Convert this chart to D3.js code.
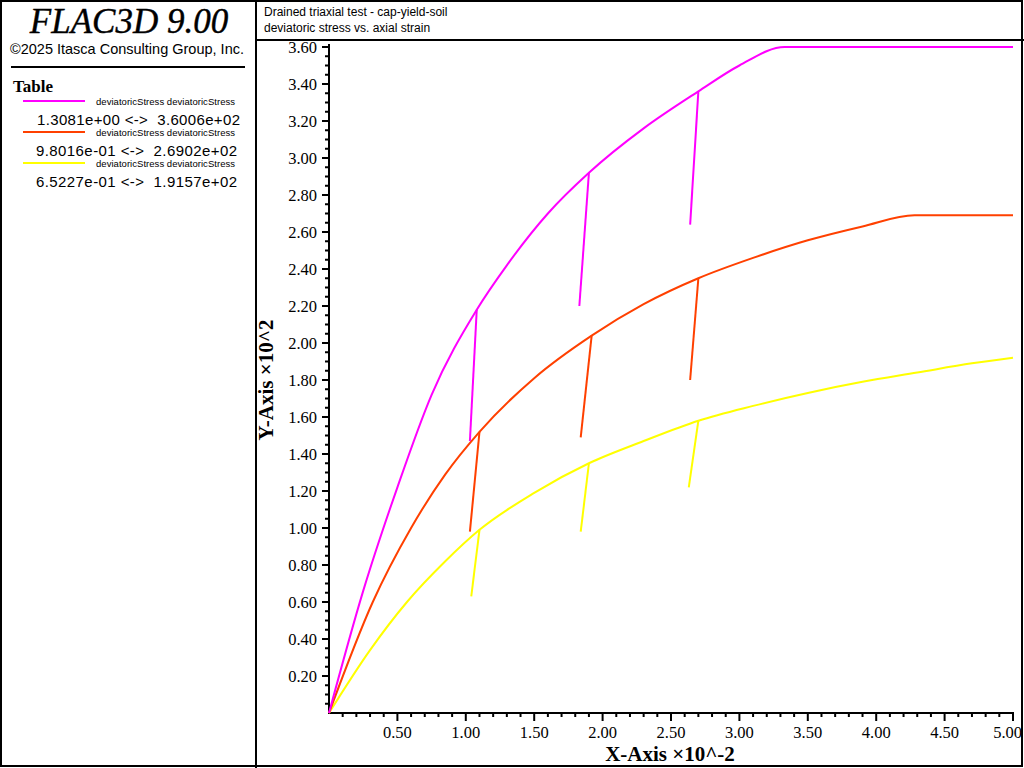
<!DOCTYPE html><html><head><meta charset="utf-8"><script src="https://cdn.jsdelivr.net/npm/d3@7"></script>
<style>body{margin:0;background:#fff}</style></head><body><svg id="c" width="1024" height="768"></svg>
<script>
const seriesNames=["deviatoricStress deviatoricStress","deviatoricStress deviatoricStress","deviatoricStress deviatoricStress"];
const seriesRanges=["1.3081e+00 <->  3.6006e+02","9.8016e-01 <->  2.6902e+02","6.5227e-01 <->  1.9157e+02"];
const seriesColors=["#ff00ff","#ff4000","#ffff00"];
// loading envelopes
const pinkEnv=[[0,0],[0.25,0.66],[0.5,1.22],[0.75,1.72],[1.08,2.18],[1.3,2.42],[1.6,2.70],[1.9,2.92],[2.3,3.16],[2.7,3.36],[3.0,3.50],[3.33,3.60],[5.0,3.60]];
const redEnv=[[0,0],[0.32,0.6],[0.6,1.0],[0.85,1.29],[1.1,1.52],[1.5,1.81],[1.92,2.04],[2.3,2.21],[2.7,2.35],[3.1,2.46],[3.5,2.555],[3.9,2.63],[4.28,2.69],[5.0,2.69]];
const yellowEnv=[[0,0],[0.3,0.34],[0.57,0.6],[0.85,0.82],[1.1,0.99],[1.5,1.19],[1.9,1.35],[2.3,1.47],[2.7,1.58],[3.1,1.66],[3.5,1.73],[3.9,1.79],[4.3,1.84],[4.7,1.89],[5.0,1.92]];
// unload/reload branches
const pinkUnload=[[[1.08,2.18],[1.03,1.47]],[[1.9,2.92],[1.83,2.20]],[[2.7,3.36],[2.64,2.64]]];
const redUnload=[[[1.1,1.52],[1.03,0.98]],[[1.92,2.04],[1.84,1.49]],[[2.7,2.35],[2.64,1.80]]];
const yellowUnload=[[[1.1,0.99],[1.04,0.63]],[[1.9,1.35],[1.84,0.98]],[[2.7,1.58],[2.63,1.22]]];
const xTicks=[0.5,1,1.5,2,2.5,3,3.5,4,4.5,5];
const yTicks=[0.2,0.4,0.6,0.8,1,1.2,1.4,1.6,1.8,2,2.2,2.4,2.6,2.8,3,3.2,3.4,3.6];
const svg=d3.select("#c");
const x=d3.scaleLinear().domain([0,5]).range([329,1013]);
const y=d3.scaleLinear().domain([0,3.6]).range([713,47]);
svg.append("rect").attr("x",1).attr("y",1).attr("width",1021).attr("height",765).attr("fill","none").attr("stroke","#000").attr("stroke-width",2);
svg.append("line").attr("x1",256).attr("x2",256).attr("y1",0).attr("y2",768).attr("stroke","#000").attr("stroke-width",2);
svg.append("line").attr("x1",256).attr("x2",1024).attr("y1",40).attr("y2",40).attr("stroke","#000").attr("stroke-width",2);
svg.append("text").attr("x",129).attr("y",33).attr("text-anchor","middle").attr("font-family","Liberation Serif").attr("font-style","italic").attr("font-size",35).attr("stroke","#000").attr("stroke-width",0.4).text("FLAC3D 9.00");
svg.append("text").attr("x",127).attr("y",54).attr("text-anchor","middle").attr("font-family","Liberation Sans").attr("font-size",14.5).text("©2025 Itasca Consulting Group, Inc.");
svg.append("line").attr("x1",11).attr("x2",245).attr("y1",67).attr("y2",67).attr("stroke","#000").attr("stroke-width",2);
svg.append("text").attr("x",13).attr("y",92).attr("font-family","Liberation Serif").attr("font-weight","bold").attr("font-size",17).text("Table");
seriesNames.forEach((n,i)=>{const b=101+i*31;
 svg.append("line").attr("x1",23).attr("x2",85).attr("y1",b).attr("y2",b).attr("stroke",seriesColors[i]).attr("stroke-width",2);
 svg.append("text").attr("x",96).attr("y",b+4).attr("font-family","Liberation Sans").attr("font-size",9.5).attr("textLength",139).text(n);
 svg.append("text").attr("x",i==0?37:36).attr("y",b+24).attr("font-family","Liberation Sans").attr("font-size",15).attr("xml:space","preserve").style("white-space","pre").attr("textLength",i==0?203:201).text(seriesRanges[i]);
});
svg.append("text").attr("x",264).attr("y",16).attr("font-family","Liberation Sans").attr("font-size",12).text("Drained triaxial test - cap-yield-soil");
svg.append("text").attr("x",264).attr("y",32).attr("font-family","Liberation Sans").attr("font-size",12).text("deviatoric stress vs. axial strain");
const ga=svg.append("g");
ga.append("line").attr("x1",329).attr("x2",329).attr("y1",44).attr("y2",714).attr("stroke","#000").attr("stroke-width",2);
ga.append("line").attr("x1",328).attr("x2",1014).attr("y1",713).attr("y2",713).attr("stroke","#000").attr("stroke-width",2);
d3.range(1,73).forEach(k=>{const v=k*0.05;const maj=k%4==0;
 ga.append("line").attr("x1",329).attr("x2",maj?322:325).attr("y1",y(v)).attr("y2",y(v)).attr("stroke","#000").attr("stroke-width",2);});
d3.range(1,51).forEach(k=>{const v=k*0.1;const maj=k%5==0;
 ga.append("line").attr("x1",x(v)).attr("x2",x(v)).attr("y1",713).attr("y2",maj?721:717).attr("stroke","#000").attr("stroke-width",2);});
yTicks.forEach(v=>ga.append("text").attr("x",317).attr("y",y(v)+6).attr("text-anchor","end").attr("font-family","Liberation Serif").attr("font-size",16.5).text(v.toFixed(2)));
xTicks.forEach(v=>ga.append("text").attr("x",x(v)).attr("y",738).attr("text-anchor",v==5?"end":"middle").attr("dx",v==5?9:0).attr("font-family","Liberation Serif").attr("font-size",16.5).text(v.toFixed(2)));
svg.append("text").attr("x",670).attr("y",761).attr("text-anchor","middle").attr("font-family","Liberation Serif").attr("font-weight","bold").attr("font-size",21).text("X-Axis ×10^-2");
svg.append("text").attr("transform","translate(273,380) rotate(-90)").attr("text-anchor","middle").attr("font-family","Liberation Serif").attr("font-weight","bold").attr("font-size",21).text("Y-Axis ×10^2");
const curve=d3.line().x(d=>x(d[0])).y(d=>y(d[1])).curve(d3.curveMonotoneX);
const straight=d3.line().x(d=>x(d[0])).y(d=>y(d[1]));
function draw(env,unl,c){
 unl.forEach(u=>svg.append("path").attr("d",straight(u)).attr("fill","none").attr("stroke",c).attr("stroke-width",2));
 svg.append("path").attr("d",curve(env)).attr("fill","none").attr("stroke",c).attr("stroke-width",2);
}
draw(yellowEnv,yellowUnload,seriesColors[2]);draw(redEnv,redUnload,seriesColors[1]);draw(pinkEnv,pinkUnload,seriesColors[0]);
</script></body></html>
